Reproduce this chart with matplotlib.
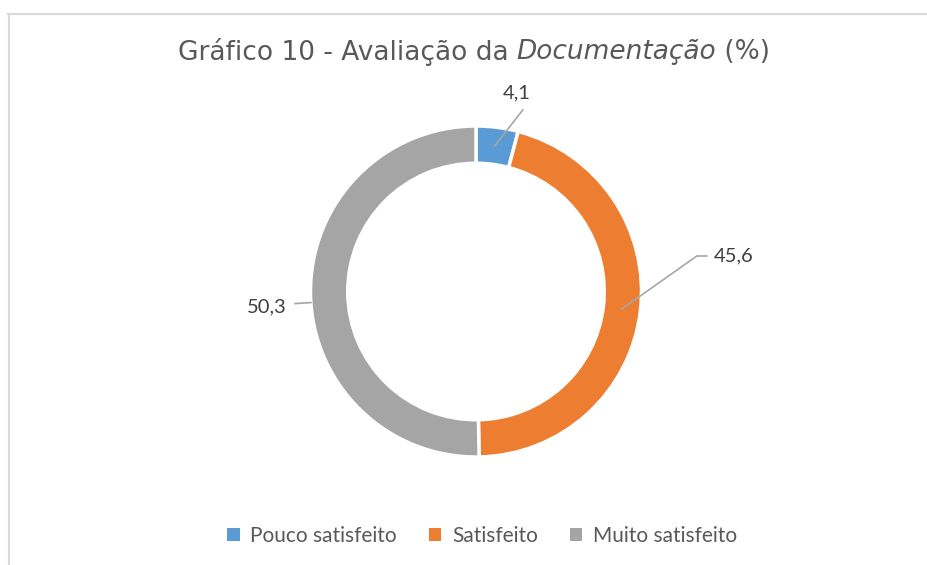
import numpy as np
import matplotlib
matplotlib.use("Agg")
import matplotlib.pyplot as plt
from matplotlib.lines import Line2D
from matplotlib.patches import Patch

# chart data
categories = ["Pouco satisfeito", "Satisfeito", "Muito satisfeito"]
values = [4.1, 45.6, 50.3]
value_labels = ["4,1", "45,6", "50,3"]
colors = ["#5B9BD5", "#ED7D31", "#A5A5A5"]

title_parts = [("Gráfico 10 - Avaliação da ", "normal"),
               ("Documentação", "italic"),
               (" (%)", "normal")]

W, H = 928, 565
fig = plt.figure(figsize=(W / 100, H / 100), dpi=100)

# frame of the chart area (top and left edges are visible)
fig.add_artist(Line2D([8 / W, 1], [1 - 13.5 / H, 1 - 13.5 / H], transform=fig.transFigure, color="#d9d9d9", lw=1.5))
fig.add_artist(Line2D([9 / W, 9 / W], [0, 1 - 13.5 / H], transform=fig.transFigure, color="#d9d9d9", lw=1.5))

# donut
cx, cy, R = 476, 291.5, 165.5
ax = fig.add_axes([(cx - R) / W, (H - cy - R) / H, 2 * R / W, 2 * R / H])
wedges, _ = ax.pie(values, colors=colors, startangle=90, counterclock=False, radius=1.0,
                   wedgeprops=dict(width=0.225, edgecolor="white", linewidth=2.5))
ax.set_xlim(-1, 1)
ax.set_ylim(-1, 1)
ax.set_aspect("equal")
ax.axis("off")

# leader lines + value labels (pixel offsets from the anchor on the ring)
label_style = [
    # radius of anchor, angle shift, path offsets (px), text offset (px), ha
    (0.8875, 0.0, [(0, 0), (28, 36)], (22, 53), "center"),
    (0.8875, 0.0, [(0, 0), (75, 53), (85, 53)], (92, 53), "left"),
    (1.0, 3.3, [(0, 0), (-16, -1)], (-24, -4), "right"),
]
for w, lab, (r, dang, path, toff, ha) in zip(wedges, value_labels, label_style):
    ang = np.deg2rad((w.theta1 + w.theta2) / 2 + dang)
    px, py = ax.transData.transform((r * np.cos(ang), r * np.sin(ang)))
    xs = [(px + dx) / W for dx, dy in path]
    ys = [(py + dy) / H for dx, dy in path]
    fig.add_artist(Line2D(xs, ys, transform=fig.transFigure, color="#a6a6a6", lw=1.2))
    fig.text((px + toff[0]) / W, (py + toff[1]) / H, lab, ha=ha, va="center",
             fontsize=14.5, color="#404040", family="Lato")

# title with italic word
renderer = fig.canvas.get_renderer()
texts = []
x = 0.0
for txt, style in title_parts:
    t = fig.text(x, 1 - 52 / H, txt, fontsize=19, color="#595959", style=style,
                 family="DejaVu Sans", va="center", ha="left")
    bb = t.get_window_extent(renderer)
    texts.append(t)
    x += bb.width / W
start = 474 / W - x / 2
x = start
for t in texts:
    bb = t.get_window_extent(renderer)
    t.set_x(x)
    x += bb.width / W

# legend
handles = [Patch(facecolor=c, edgecolor="none") for c in colors]
leg = fig.legend(handles, categories, loc="center", bbox_to_anchor=(482 / W, 1 - 536 / H),
                 ncol=3, frameon=False, handlelength=0.6, handleheight=0.6, handletextpad=0.5,
                 columnspacing=1.55, prop=dict(family="Lato", size=15))
for t in leg.get_texts():
    t.set_color("#595959")

fig.savefig("out.png", dpi=100, facecolor="white")
